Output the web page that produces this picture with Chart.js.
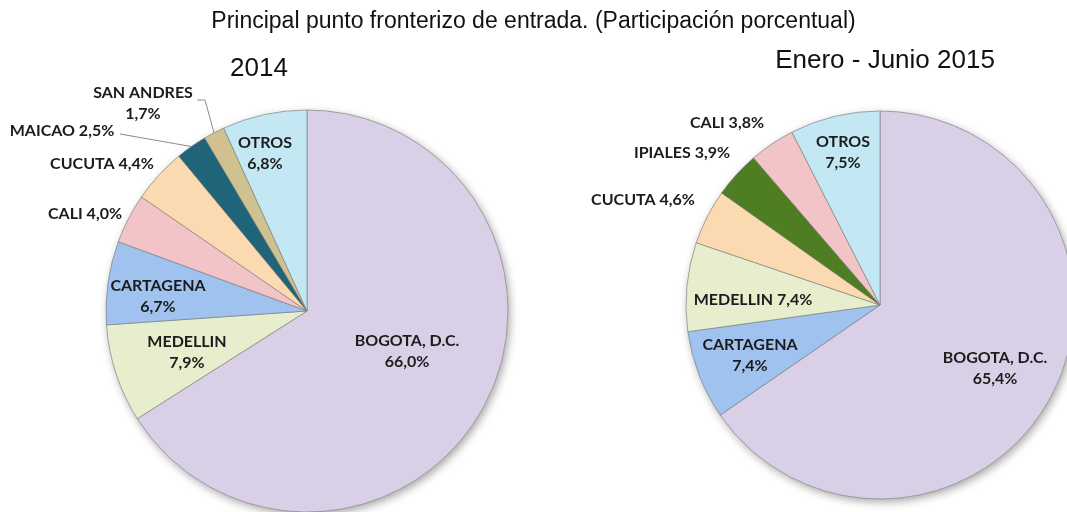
<!DOCTYPE html>
<html>
<head>
<meta charset="utf-8">
<script src="https://cdn.jsdelivr.net/npm/chart.js@4.4.1/dist/chart.umd.min.js"></script>
<style>
  body { margin: 0; width: 1067px; height: 512px; overflow: hidden; background: #fff; position: relative; }
  canvas { position: absolute; top: 0; }
  .txt { position: absolute; font-family: "Liberation Sans", Arial, sans-serif; color: #111; text-align: center; white-space: nowrap; line-height: 1; z-index: 2; }
</style>
</head>
<body>
<div class="txt" style="left:0;width:1067px;top:9px;font-size:23px;">Principal punto fronterizo de entrada. (Participación porcentual)</div>
<div class="txt" style="left:159px;width:200px;top:54px;font-size:26px;">2014</div>
<div class="txt" style="left:735px;width:300px;top:46px;font-size:26px;">Enero - Junio 2015</div>
<canvas id="g2014" width="614" height="622" style="left:0"></canvas>
<canvas id="g2015" width="600" height="610" style="left:580px"></canvas>
<script>
// datos 2014
const categorias2014 = ['BOGOTA, D.C.', 'MEDELLIN', 'CARTAGENA', 'CALI', 'CUCUTA', 'MAICAO', 'SAN ANDRES', 'OTROS'];
const valores2014 = [66.0, 7.9, 6.7, 4.0, 4.4, 2.5, 1.7, 6.8];
// datos enero - junio 2015
const categorias2015 = ['BOGOTA, D.C.', 'CARTAGENA', 'MEDELLIN', 'CUCUTA', 'IPIALES', 'CALI', 'OTROS'];
const valores2015 = [65.4, 7.4, 7.4, 4.6, 3.9, 3.8, 7.5];

const colores = {
    'BOGOTA, D.C.': '#d9d0e7',
    'MEDELLIN': '#e7eecd',
    'CARTAGENA': '#9fc2ee',
    'CALI': '#f2c4c8',
    'CUCUTA': '#fbdab2',
    'MAICAO': '#1f6478',
    'SAN ANDRES': '#cfc190',
    'IPIALES': '#4f7d22',
    'OTROS': '#c4e8f3'
};

// posicion de cada etiqueta respecto al centro de la torta
const pos2014 = [[100, 40], [-120, 41], [-149, -15], [-222, -97], [-205, -147], [-245, -180], [-164, -208], [-42, -158]];
const lineas2014 = [true, true, true, false, false, false, true, true];
const guias2014 = {5: [[-187, -177]], 6: [[-110, -211], [-102, -211]]};

const pos2015 = [[115, 63], [-130, 50], [-127, -5], [-237, -105], [-198, -152], [-153, -182], [-37, -153]];
const lineas2015 = [true, true, false, false, false, false, true];

const etiquetasPlugin = {
    id: 'etiquetas',
    beforeDatasetsDraw(chart) {
        let arc = chart.getDatasetMeta(0).data[0];
        let ctx = chart.ctx;
        ctx.save();
        ctx.shadowColor = 'rgba(0,0,0,0.35)';
        ctx.shadowBlur = 8;
        ctx.shadowOffsetX = 2;
        ctx.shadowOffsetY = 3;
        ctx.beginPath();
        ctx.arc(arc.x, arc.y, arc.outerRadius, 0, Math.PI * 2);
        ctx.fillStyle = '#ccc';
        ctx.fill();
        ctx.restore();
    },
    afterDatasetsDraw(chart, args, opts) {
        let ctx = chart.ctx;
        let meta = chart.getDatasetMeta(0);
        let vals = chart.data.datasets[0].data;
        let labels = chart.data.labels;
        meta.data.forEach(function(arc, i) {
            let p = arc.getProps(['x', 'y', 'startAngle', 'endAngle', 'outerRadius'], true);
            let pct = vals[i].toFixed(1).replace('.', ',') + '%';
            let cx = p.x + opts.posiciones[i][0];
            let cy = p.y + opts.posiciones[i][1];
            ctx.save();
            // linea guia
            let guia = opts.guias ? opts.guias[i] : null;
            if (guia) {
                let mid = (p.startAngle + p.endAngle) / 2;
                ctx.strokeStyle = '#8c8c8c';
                ctx.lineWidth = 1;
                ctx.beginPath();
                ctx.moveTo(p.x + guia[0][0], p.y + guia[0][1]);
                for (let k = 1; k < guia.length; k++) ctx.lineTo(p.x + guia[k][0], p.y + guia[k][1]);
                ctx.lineTo(p.x + Math.cos(mid) * p.outerRadius, p.y + Math.sin(mid) * p.outerRadius);
                ctx.stroke();
            }
            ctx.font = 'bold 16px Lato, "Open Sans", sans-serif';
            ctx.fillStyle = '#1c1c1c';
            ctx.textAlign = 'center';
            ctx.textBaseline = 'middle';
            if (opts.dosLineas[i]) {
                ctx.fillText(labels[i], cx, cy - 10.5);
                ctx.fillText(pct, cx, cy + 10.5);
            } else {
                ctx.fillText(labels[i] + ' ' + pct, cx, cy);
            }
            ctx.restore();
        });
    }
};

function crearTorta(id, categorias, valores, radio, posiciones, dosLineas, guias) {
    let ctx = document.getElementById(id).getContext('2d');
    return new Chart(ctx, {
        type: 'pie',
        data: {
            labels: categorias,
            datasets: [{
                data: valores,
                backgroundColor: categorias.map(c => colores[c]),
                borderColor: 'rgba(120,120,120,0.6)',
                borderWidth: 1
            }]
        },
        options: {
            responsive: false,
            animation: false,
            devicePixelRatio: 1,
            radius: radio,
            layout: { padding: 0 },
            plugins: {
                legend: { display: false },
                tooltip: { enabled: false },
                etiquetas: { posiciones: posiciones, dosLineas: dosLineas, guias: guias }
            }
        },
        plugins: [etiquetasPlugin]
    });
}

crearTorta('g2014', categorias2014, valores2014, 201, pos2014, lineas2014, guias2014);
crearTorta('g2015', categorias2015, valores2015, 194, pos2015, lineas2015, null);
</script>
</body>
</html>
